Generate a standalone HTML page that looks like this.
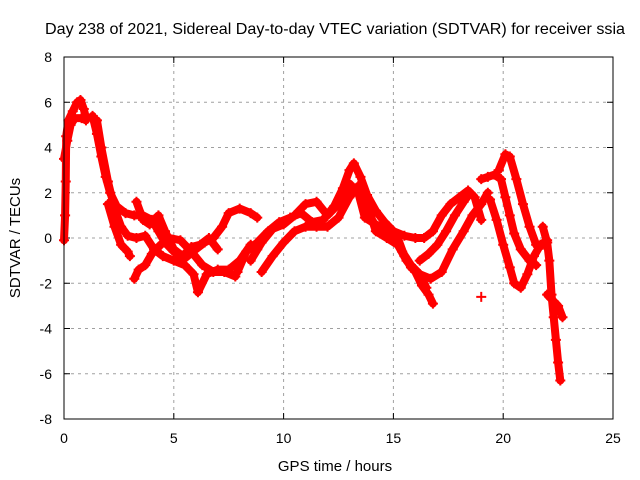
<!DOCTYPE html>
<html><head><meta charset="utf-8"><style>
body{margin:0;background:#fff;}
svg{display:block;font-family:"Liberation Sans",sans-serif;}
</style></head><body>
<svg id="chart" width="640" height="480">
<text x="335" y="34" font-size="16" text-anchor="middle" textLength="580" lengthAdjust="spacingAndGlyphs">Day 238 of 2021, Sidereal Day-to-day VTEC variation (SDTVAR) for receiver ssia</text>
<text x="335" y="471" font-size="15" text-anchor="middle">GPS time / hours</text>
<text x="0" y="0" font-size="15" text-anchor="middle" transform="translate(20,238) rotate(-90)">SDTVAR / TECUs</text>
<g id="grid"></g><g id="ticks"></g><g id="marks"></g>
<rect x="64" y="57" width="549" height="362" fill="none" stroke="#000" stroke-width="1"/>
</svg>
<script>
const xTicks=[0,5,10,15,20,25];
const yTicks=[-8,-6,-4,-2,0,2,4,6,8];
const track1=[[0,-0.1],[0.05,1],[0.08,2.5],[0.1,4.5],[0.2,5.2],[0.4,5.6],[0.6,6.0],[0.75,6.1],[0.9,5.7],[1.0,5.3]];
const track2=[[0,3.5],[0.15,4.3],[0.3,5.0],[0.5,5.3],[0.8,5.3],[1.0,5.2]];
const track3=[[1.3,5.4],[1.5,4.6],[1.7,3.6],[1.9,2.7],[2.1,2.0],[2.4,1.4],[2.8,1.1],[3.2,1.0],[3.6,1.0],[4.0,0.8],[4.3,0.3],[4.6,-0.2],[5.0,-0.6],[5.5,-0.9],[6.0,-0.5],[6.4,-0.2],[6.8,0.0],[7.2,0.5],[7.5,1.1],[8.0,1.3],[8.5,1.1],[8.8,0.9]];
const track4=[[1.5,5.2],[1.7,4.0],[2.0,2.5],[2.3,1.3],[2.6,0.5],[2.9,0.1],[3.3,0.0],[3.7,0.1],[4.1,-0.5],[4.5,-0.8],[5.0,-1.0],[5.5,-1.2],[5.9,-1.6],[6.1,-2.4],[6.5,-1.6],[7.0,-1.4],[7.5,-1.4],[8.0,-1.0],[8.5,-0.3],[8.8,-0.5]];
const track5=[[2.0,1.5],[2.3,0.5],[2.6,-0.3],[2.9,-0.6],[3.0,-0.8]];
const track6=[[3.2,-1.8],[3.4,-1.4],[3.7,-1.2],[4.0,-0.7],[4.4,-0.3],[4.8,0.0],[5.3,-0.1],[5.8,-0.6],[6.3,-1.2],[6.8,-1.5],[7.3,-1.5],[7.8,-1.7]];
const track7=[[3.3,1.6],[3.6,0.8],[3.9,0.6],[4.3,1.0],[4.6,0.3],[5.0,-0.5],[5.4,-0.8],[5.8,-0.4],[6.2,-0.3],[6.6,0.0],[7.0,-0.5]];
const track8=[[7.9,-1.5],[8.3,-0.6],[8.8,-0.2],[9.3,0.3],[9.8,0.7],[10.3,0.9],[10.8,1.1],[11.3,0.7],[11.8,0.8],[12.3,1.4],[12.7,2.2],[13.0,3.0],[13.2,3.3],[13.5,2.7],[13.8,1.9],[14.2,1.2],[14.6,0.7],[15.0,0.3],[15.5,0.1],[16.0,0.0],[16.4,0.0],[16.8,0.3],[17.2,1.0],[17.6,1.5],[18.0,1.8],[18.4,2.1],[18.7,1.8],[19.0,0.8]];
const track9=[[8.5,-1.0],[9.0,-0.2],[9.5,0.4],[10.0,0.6],[10.5,1.0],[11.0,1.5],[11.5,1.6],[12.0,1.0],[12.5,1.5],[13.0,2.4],[13.4,2.0],[13.7,0.9],[14.2,0.6],[14.8,0.3],[15.2,0.0],[15.5,-0.8],[15.8,-1.3],[16.2,-1.6],[16.5,-2.2]];
const track10=[[9.0,-1.5],[9.5,-0.8],[10.0,-0.2],[10.5,0.3],[11.0,0.5],[11.5,0.5],[12.0,0.5],[12.5,0.9],[13.0,1.8],[13.4,2.3],[13.8,1.5],[14.2,0.3],[14.7,0.0],[15.2,-0.3],[15.6,-1.0],[16.0,-1.5],[16.3,-2.1],[16.6,-2.5],[16.8,-2.9]];
const track11=[[15.0,0.0],[15.4,-0.6],[15.8,-1.2],[16.2,-1.6],[16.7,-1.8],[17.2,-1.5],[17.7,-0.5],[18.2,0.3],[18.6,1.0],[19.0,1.5],[19.3,2.0]];
const track12=[[16.2,-1.0],[16.6,-0.7],[17.0,-0.3],[17.4,0.3],[17.8,1.0],[18.2,1.6],[18.5,2.0]];
const track13=[[19.0,2.6],[19.3,2.7],[19.6,2.8],[19.9,2.6],[20.1,1.8],[20.3,1.0],[20.5,0.2],[20.8,-0.5],[21.2,-1.0],[21.5,-1.2]];
const track14=[[19.8,3.0],[20.1,3.7],[20.3,3.6],[20.6,2.6],[20.9,1.5],[21.2,0.5],[21.5,-0.3],[21.8,-0.3],[22.0,-0.2]];
const track15=[[19.4,1.7],[19.7,0.8],[20.0,-0.3],[20.3,-1.3],[20.5,-2.0],[20.8,-2.2],[21.1,-1.6],[21.4,-0.8],[21.7,-0.3],[22.0,-0.1]];
const track16=[[21.8,0.5],[22.0,-0.2],[22.1,-1.0],[22.2,-2.5],[22.3,-3.5],[22.4,-4.5],[22.5,-5.5],[22.6,-6.3]];
const track17=[[22.0,-2.5],[22.3,-2.8],[22.5,-3.0],[22.7,-3.5]];
const track18=[[19.0,-2.6]];
const tracks=[track1,track2,track3,track4,track5,track6,track7,track8,track9,track10,track11,track12,track13,track14,track15,track16,track17];
const NS='http://www.w3.org/2000/svg';
const X0=64,X1=613,Y0=419,Y1=57;
function sx(h){return X0+(h-0)/(25-0)*(X1-X0);}
function sy(v){return Y0-(v+8)/16*(Y0-Y1);}
const grid=document.getElementById('grid'),tk=document.getElementById('ticks'),mk=document.getElementById('marks');
function mkEl(t,a){const e=document.createElementNS(NS,t);for(const k in a)e.setAttribute(k,a[k]);return e;}
xTicks.forEach(t=>{const x=sx(t);
 if(t>0&&t<25){const g=mkEl('line',{x1:x,x2:x,y1:Y1,y2:Y0,stroke:'#a0a0a0','stroke-dasharray':'3,4'});
 
 grid.appendChild(g);}
 const l=mkEl('line',{x1:x,x2:x,y1:Y0,y2:Y0-6,stroke:'#000'});
 
 tk.appendChild(l);
 const l2=mkEl('line',{x1:x,x2:x,y1:Y1,y2:Y1+6,stroke:'#000'});
 
 tk.appendChild(l2);
 const tx=mkEl('text',{x:x,y:443,'font-size':14,'text-anchor':'middle'});tx.textContent=t;
 
 tk.appendChild(tx);});
yTicks.forEach(t=>{const y=sy(t);
 if(t>-8&&t<8){const g=mkEl('line',{x1:X0,x2:X1,y1:y,y2:y,stroke:'#a0a0a0','stroke-dasharray':'3,4'});
 
 grid.appendChild(g);}
 const l=mkEl('line',{x1:X0,x2:X0+6,y1:y,y2:y,stroke:'#000'});
 
 tk.appendChild(l);
 const l2=mkEl('line',{x1:X1,x2:X1-6,y1:y,y2:y,stroke:'#000'});
 
 tk.appendChild(l2);
 const tx=mkEl('text',{x:52,y:y+5,'font-size':14,'text-anchor':'end'});tx.textContent=t;
 
 tk.appendChild(tx);});
function plus(x,y){
 const m=mkEl('path',{d:`M${x-5},${y}H${x+5}M${x},${y-5}V${y+5}`,stroke:'#ff0000','stroke-width':2});
 
 mk.appendChild(m);}
function drawTrack(tr,i){
 const pl=mkEl('polyline',{points:tr.map(p=>sx(p[0])+','+sy(p[1])).join(' '),fill:'none',stroke:'#ff0000','stroke-width':8,'stroke-linejoin':'round','stroke-linecap':'round'});
 
 mk.appendChild(pl);
 tr.forEach(p=>plus(sx(p[0]),sy(p[1])));
}
tracks.forEach(drawTrack);
track18.forEach(p=>plus(sx(p[0]),sy(p[1])));
</script>
</body></html>
